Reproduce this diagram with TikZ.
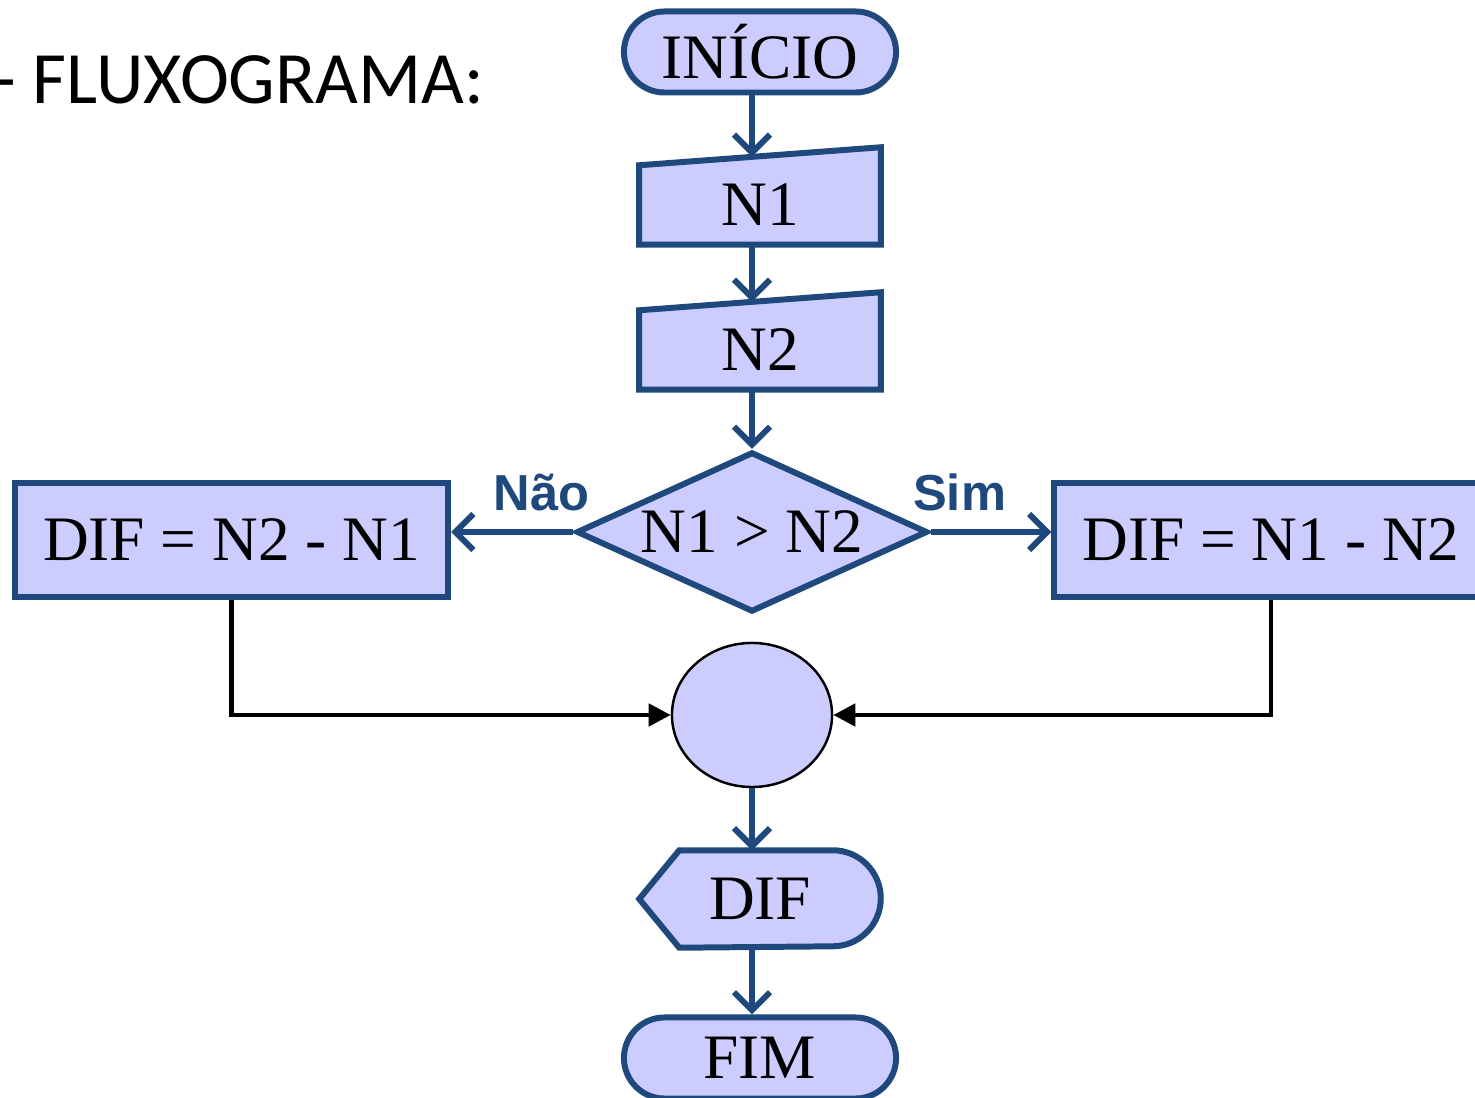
\documentclass[tikz,border=0pt]{standalone}
\usepackage{fontspec}
\setmainfont{Liberation Serif}
\newfontfamily\titulofont{Carlito}
\newfontfamily\rotulofont{Liberation Sans}
\usetikzlibrary{arrows.meta,shapes.geometric,shapes.misc,backgrounds,positioning}
\definecolor{azulborda}{RGB}{31,73,125}
\definecolor{lilas}{RGB}{204,204,255}
\tikzset{
  basico/.style   = {draw=azulborda, fill=lilas, line width=1.7pt, inner sep=0pt,
                     font=\fontsize{18}{21}\selectfont},
  terminal/.style = {basico, rounded rectangle, minimum width=2.72cm, minimum height=0.81cm},
  processo/.style = {basico, rectangle, minimum width=4.33cm, minimum height=1.14cm},
  decisao/.style  = {basico, diamond, aspect=2.19, minimum width=3.51cm, minimum height=1.6cm},
  entrada/.style  = {rectangle, inner sep=0pt, minimum width=2.4cm, minimum height=0.78cm,
                     font=\fontsize{18}{21}\selectfont},
  saida/.style    = {rectangle, inner sep=0pt, minimum width=2.4cm, minimum height=0.96cm,
                     font=\fontsize{18}{21}\selectfont},
  juncao/.style   = {ellipse, draw=black, fill=lilas, line width=0.7pt,
                     minimum width=1.6cm, minimum height=1.44cm},
  seta/.style     = {draw=azulborda, line width=1.7pt,
                     -{Straight Barb[length=1.8mm,width=3.6mm]}},
  setapreta/.style = {draw=black, line width=1.3pt, -{Triangle[length=2.2mm,width=2.2mm]}},
  rotulo/.style   = {font=\rotulofont\bfseries\fontsize{14.4}{17}\selectfont,
                     text=azulborda, inner sep=0pt},
  titulo/.style   = {font=\titulofont\fontsize{21}{25}\selectfont, inner sep=0pt}
}

\begin{document}
\begin{tikzpicture}[x=0.01cm, y=-0.01cm]
  \useasboundingbox (0,0) rectangle (1475,1098);

  % title
  \node[titulo, anchor=base west] (titulo) at (-7,104) {- FLUXOGRAMA:};

  % main column
  \node[terminal] (inicio) at (760,52) {INÍCIO};
  \node[entrada] (n1) at (760,205) {N1};
  \node[entrada] (n2) at (760,350) {N2};
  \node[decisao] (teste) at (752,532) {N1 > N2};

  % the two branches
  \node[processo] (esq) at (231.5,540) {DIF = N2 - N1};
  \node[processo] (dir) at (1271,540) {DIF = N1 - N2};

  \node[juncao] (juncao) at (752,715) {};
  \node[saida] (dif) at (760,899) {DIF};
  \node[terminal] (fim) at (760,1058) {FIM};

  % manual input and display outlines, behind the texts
  \begin{scope}[on background layer]
    \foreach \n in {n1,n2}
      \draw[basico] (\n.south west) -- (\n.north west)
        -- coordinate[pos=0.467] (\n-topo) ([yshift=0.18cm]\n.north east)
        -- (\n.south east) -- cycle;
    \draw[basico] (dif.west) -- ([xshift=0.4cm]dif.north west)
      -- ([xshift=-0.48cm]dif.north east) arc[start angle=90, end angle=-90, radius=0.48cm]
      -- ([xshift=0.4cm]dif.south west) -- cycle;
  \end{scope}

  % connectors
  \draw[seta] (inicio.south -| n1-topo) -- (n1-topo);
  \draw[seta] (n1.south -| n2-topo) -- (n2-topo);
  \draw[seta] (n2.south -| teste.north) -- (teste.north);
  \draw[seta] (teste.west) -- (teste.west -| esq.east)
    node[rotulo, pos=0.26, above=0.18cm] {Não};
  \draw[seta] (teste.east) -- (teste.east -| dir.west)
    node[rotulo, pos=0.24, above=0.18cm] {Sim};
  \draw[setapreta] (esq.south) |- (juncao.west);
  \draw[setapreta] (dir.south) |- (juncao.east);
  \draw[seta] (juncao.south) -- (juncao.south |- dif.north);
  \draw[seta] (dif.south -| juncao.south) -- (fim.north -| juncao.south);
\end{tikzpicture}
\end{document}
